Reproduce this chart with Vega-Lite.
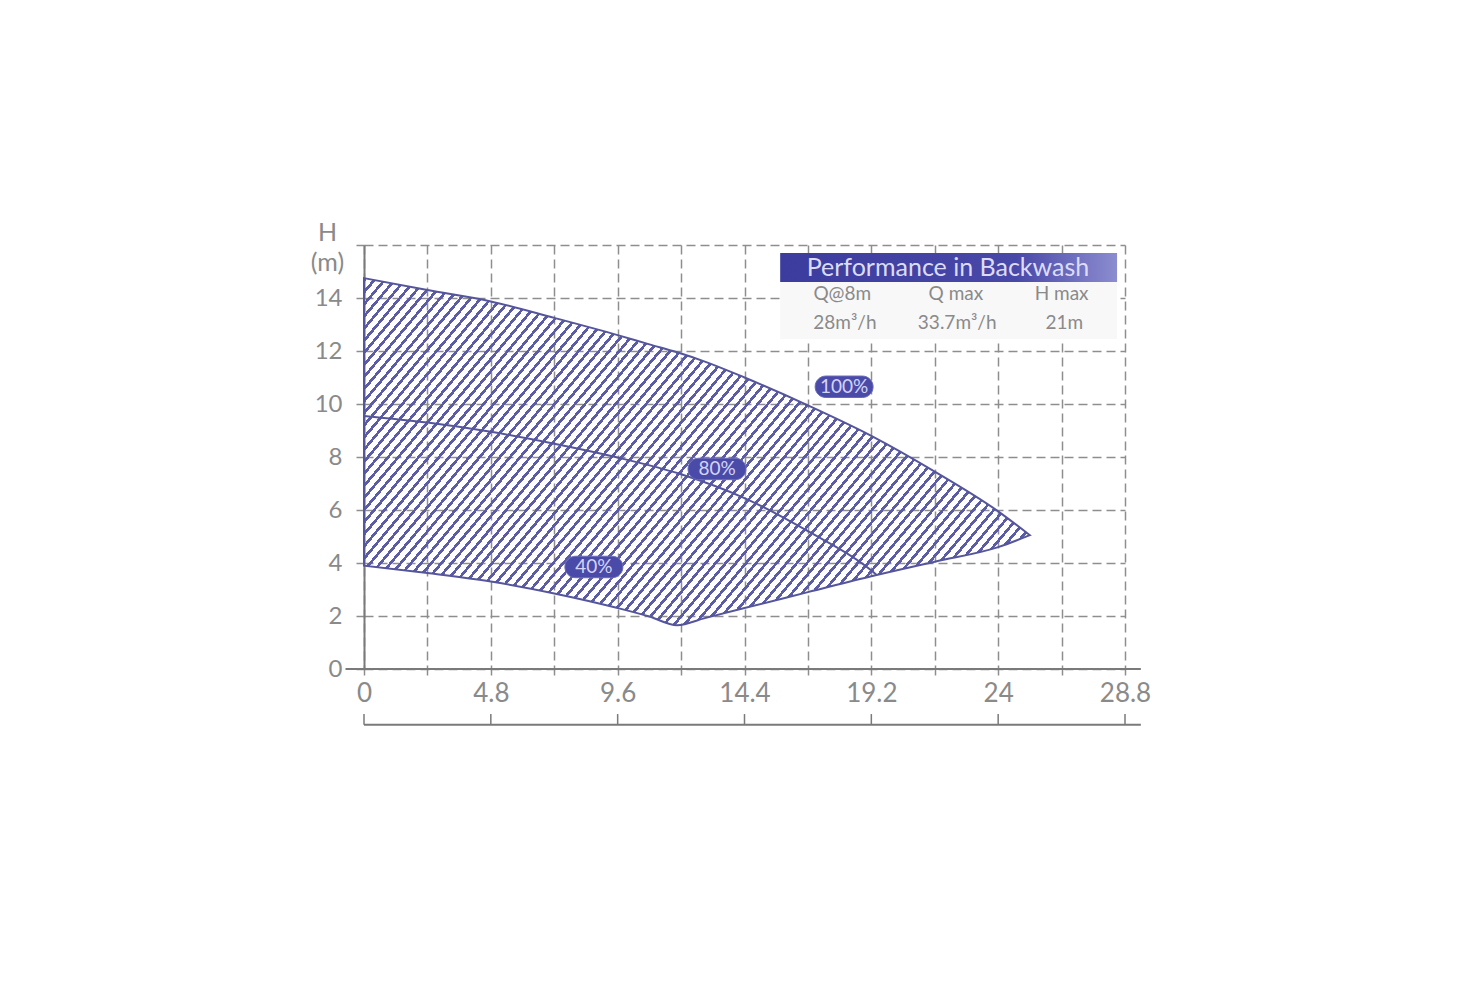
{
  "$schema": "https://vega.github.io/schema/vega-lite/v6.json",
  "width": 761,
  "height": 424,
  "autosize": {"type": "none"},
  "padding": {"left": 364, "top": 245, "right": 347, "bottom": 331},
  "background": "white",
  "config": {"view": {"stroke": null}, "font": "Lato"},
  "layer": [
    {
      "data": {"values": [
        {"q": 0, "top": 14.75, "bot": 3.9},
        {"q": 2.4, "top": 14.3, "bot": 3.62},
        {"q": 4.8, "top": 13.87, "bot": 3.3},
        {"q": 7.2, "top": 13.25, "bot": 2.85},
        {"q": 9.6, "top": 12.6, "bot": 2.3},
        {"q": 10.8, "top": 12.25, "bot": 1.98},
        {"q": 11.85, "top": 11.95, "bot": 1.65},
        {"q": 12.9, "top": 11.6, "bot": 1.92},
        {"q": 14.4, "top": 11.0, "bot": 2.3},
        {"q": 16.8, "top": 9.95, "bot": 2.9},
        {"q": 19.2, "top": 8.8, "bot": 3.5},
        {"q": 21.6, "top": 7.45, "bot": 4.05},
        {"q": 24, "top": 5.95, "bot": 4.6},
        {"q": 25.2, "top": 5.05, "bot": 5.05}
      ]},
      "mark": {
        "type": "area",
        "interpolate": "monotone",
        "stroke": "#55559c",
        "strokeWidth": 2,
        "fill": {
          "gradient": "linear",
          "x1": 0, "y1": 0, "x2": 1.28, "y2": 0.56,
          "stops": [
{"offset":0,"color":"#5c5ca6"},{"offset":0.0035,"color":"#5c5ca6"},{"offset":0.0035,"color":"rgba(255,255,255,0)"},{"offset":0.01,"color":"rgba(255,255,255,0)"},
{"offset":0.01,"color":"#5c5ca6"},{"offset":0.0135,"color":"#5c5ca6"},{"offset":0.0135,"color":"rgba(255,255,255,0)"},{"offset":0.02,"color":"rgba(255,255,255,0)"},
{"offset":0.02,"color":"#5c5ca6"},{"offset":0.0235,"color":"#5c5ca6"},{"offset":0.0235,"color":"rgba(255,255,255,0)"},{"offset":0.03,"color":"rgba(255,255,255,0)"},
{"offset":0.03,"color":"#5c5ca6"},{"offset":0.0335,"color":"#5c5ca6"},{"offset":0.0335,"color":"rgba(255,255,255,0)"},{"offset":0.04,"color":"rgba(255,255,255,0)"},
{"offset":0.04,"color":"#5c5ca6"},{"offset":0.0435,"color":"#5c5ca6"},{"offset":0.0435,"color":"rgba(255,255,255,0)"},{"offset":0.05,"color":"rgba(255,255,255,0)"},
{"offset":0.05,"color":"#5c5ca6"},{"offset":0.0535,"color":"#5c5ca6"},{"offset":0.0535,"color":"rgba(255,255,255,0)"},{"offset":0.06,"color":"rgba(255,255,255,0)"},
{"offset":0.06,"color":"#5c5ca6"},{"offset":0.0635,"color":"#5c5ca6"},{"offset":0.0635,"color":"rgba(255,255,255,0)"},{"offset":0.07,"color":"rgba(255,255,255,0)"},
{"offset":0.07,"color":"#5c5ca6"},{"offset":0.0735,"color":"#5c5ca6"},{"offset":0.0735,"color":"rgba(255,255,255,0)"},{"offset":0.08,"color":"rgba(255,255,255,0)"},
{"offset":0.08,"color":"#5c5ca6"},{"offset":0.0835,"color":"#5c5ca6"},{"offset":0.0835,"color":"rgba(255,255,255,0)"},{"offset":0.09,"color":"rgba(255,255,255,0)"},
{"offset":0.09,"color":"#5c5ca6"},{"offset":0.0935,"color":"#5c5ca6"},{"offset":0.0935,"color":"rgba(255,255,255,0)"},{"offset":0.10,"color":"rgba(255,255,255,0)"},
{"offset":0.10,"color":"#5c5ca6"},{"offset":0.1035,"color":"#5c5ca6"},{"offset":0.1035,"color":"rgba(255,255,255,0)"},{"offset":0.11,"color":"rgba(255,255,255,0)"},
{"offset":0.11,"color":"#5c5ca6"},{"offset":0.1135,"color":"#5c5ca6"},{"offset":0.1135,"color":"rgba(255,255,255,0)"},{"offset":0.12,"color":"rgba(255,255,255,0)"},
{"offset":0.12,"color":"#5c5ca6"},{"offset":0.1235,"color":"#5c5ca6"},{"offset":0.1235,"color":"rgba(255,255,255,0)"},{"offset":0.13,"color":"rgba(255,255,255,0)"},
{"offset":0.13,"color":"#5c5ca6"},{"offset":0.1335,"color":"#5c5ca6"},{"offset":0.1335,"color":"rgba(255,255,255,0)"},{"offset":0.14,"color":"rgba(255,255,255,0)"},
{"offset":0.14,"color":"#5c5ca6"},{"offset":0.1435,"color":"#5c5ca6"},{"offset":0.1435,"color":"rgba(255,255,255,0)"},{"offset":0.15,"color":"rgba(255,255,255,0)"},
{"offset":0.15,"color":"#5c5ca6"},{"offset":0.1535,"color":"#5c5ca6"},{"offset":0.1535,"color":"rgba(255,255,255,0)"},{"offset":0.16,"color":"rgba(255,255,255,0)"},
{"offset":0.16,"color":"#5c5ca6"},{"offset":0.1635,"color":"#5c5ca6"},{"offset":0.1635,"color":"rgba(255,255,255,0)"},{"offset":0.17,"color":"rgba(255,255,255,0)"},
{"offset":0.17,"color":"#5c5ca6"},{"offset":0.1735,"color":"#5c5ca6"},{"offset":0.1735,"color":"rgba(255,255,255,0)"},{"offset":0.18,"color":"rgba(255,255,255,0)"},
{"offset":0.18,"color":"#5c5ca6"},{"offset":0.1835,"color":"#5c5ca6"},{"offset":0.1835,"color":"rgba(255,255,255,0)"},{"offset":0.19,"color":"rgba(255,255,255,0)"},
{"offset":0.19,"color":"#5c5ca6"},{"offset":0.1935,"color":"#5c5ca6"},{"offset":0.1935,"color":"rgba(255,255,255,0)"},{"offset":0.20,"color":"rgba(255,255,255,0)"},
{"offset":0.20,"color":"#5c5ca6"},{"offset":0.2035,"color":"#5c5ca6"},{"offset":0.2035,"color":"rgba(255,255,255,0)"},{"offset":0.21,"color":"rgba(255,255,255,0)"},
{"offset":0.21,"color":"#5c5ca6"},{"offset":0.2135,"color":"#5c5ca6"},{"offset":0.2135,"color":"rgba(255,255,255,0)"},{"offset":0.22,"color":"rgba(255,255,255,0)"},
{"offset":0.22,"color":"#5c5ca6"},{"offset":0.2235,"color":"#5c5ca6"},{"offset":0.2235,"color":"rgba(255,255,255,0)"},{"offset":0.23,"color":"rgba(255,255,255,0)"},
{"offset":0.23,"color":"#5c5ca6"},{"offset":0.2335,"color":"#5c5ca6"},{"offset":0.2335,"color":"rgba(255,255,255,0)"},{"offset":0.24,"color":"rgba(255,255,255,0)"},
{"offset":0.24,"color":"#5c5ca6"},{"offset":0.2435,"color":"#5c5ca6"},{"offset":0.2435,"color":"rgba(255,255,255,0)"},{"offset":0.25,"color":"rgba(255,255,255,0)"},
{"offset":0.25,"color":"#5c5ca6"},{"offset":0.2535,"color":"#5c5ca6"},{"offset":0.2535,"color":"rgba(255,255,255,0)"},{"offset":0.26,"color":"rgba(255,255,255,0)"},
{"offset":0.26,"color":"#5c5ca6"},{"offset":0.2635,"color":"#5c5ca6"},{"offset":0.2635,"color":"rgba(255,255,255,0)"},{"offset":0.27,"color":"rgba(255,255,255,0)"},
{"offset":0.27,"color":"#5c5ca6"},{"offset":0.2735,"color":"#5c5ca6"},{"offset":0.2735,"color":"rgba(255,255,255,0)"},{"offset":0.28,"color":"rgba(255,255,255,0)"},
{"offset":0.28,"color":"#5c5ca6"},{"offset":0.2835,"color":"#5c5ca6"},{"offset":0.2835,"color":"rgba(255,255,255,0)"},{"offset":0.29,"color":"rgba(255,255,255,0)"},
{"offset":0.29,"color":"#5c5ca6"},{"offset":0.2935,"color":"#5c5ca6"},{"offset":0.2935,"color":"rgba(255,255,255,0)"},{"offset":0.30,"color":"rgba(255,255,255,0)"},
{"offset":0.30,"color":"#5c5ca6"},{"offset":0.3035,"color":"#5c5ca6"},{"offset":0.3035,"color":"rgba(255,255,255,0)"},{"offset":0.31,"color":"rgba(255,255,255,0)"},
{"offset":0.31,"color":"#5c5ca6"},{"offset":0.3135,"color":"#5c5ca6"},{"offset":0.3135,"color":"rgba(255,255,255,0)"},{"offset":0.32,"color":"rgba(255,255,255,0)"},
{"offset":0.32,"color":"#5c5ca6"},{"offset":0.3235,"color":"#5c5ca6"},{"offset":0.3235,"color":"rgba(255,255,255,0)"},{"offset":0.33,"color":"rgba(255,255,255,0)"},
{"offset":0.33,"color":"#5c5ca6"},{"offset":0.3335,"color":"#5c5ca6"},{"offset":0.3335,"color":"rgba(255,255,255,0)"},{"offset":0.34,"color":"rgba(255,255,255,0)"},
{"offset":0.34,"color":"#5c5ca6"},{"offset":0.3435,"color":"#5c5ca6"},{"offset":0.3435,"color":"rgba(255,255,255,0)"},{"offset":0.35,"color":"rgba(255,255,255,0)"},
{"offset":0.35,"color":"#5c5ca6"},{"offset":0.3535,"color":"#5c5ca6"},{"offset":0.3535,"color":"rgba(255,255,255,0)"},{"offset":0.36,"color":"rgba(255,255,255,0)"},
{"offset":0.36,"color":"#5c5ca6"},{"offset":0.3635,"color":"#5c5ca6"},{"offset":0.3635,"color":"rgba(255,255,255,0)"},{"offset":0.37,"color":"rgba(255,255,255,0)"},
{"offset":0.37,"color":"#5c5ca6"},{"offset":0.3735,"color":"#5c5ca6"},{"offset":0.3735,"color":"rgba(255,255,255,0)"},{"offset":0.38,"color":"rgba(255,255,255,0)"},
{"offset":0.38,"color":"#5c5ca6"},{"offset":0.3835,"color":"#5c5ca6"},{"offset":0.3835,"color":"rgba(255,255,255,0)"},{"offset":0.39,"color":"rgba(255,255,255,0)"},
{"offset":0.39,"color":"#5c5ca6"},{"offset":0.3935,"color":"#5c5ca6"},{"offset":0.3935,"color":"rgba(255,255,255,0)"},{"offset":0.40,"color":"rgba(255,255,255,0)"},
{"offset":0.40,"color":"#5c5ca6"},{"offset":0.4035,"color":"#5c5ca6"},{"offset":0.4035,"color":"rgba(255,255,255,0)"},{"offset":0.41,"color":"rgba(255,255,255,0)"},
{"offset":0.41,"color":"#5c5ca6"},{"offset":0.4135,"color":"#5c5ca6"},{"offset":0.4135,"color":"rgba(255,255,255,0)"},{"offset":0.42,"color":"rgba(255,255,255,0)"},
{"offset":0.42,"color":"#5c5ca6"},{"offset":0.4235,"color":"#5c5ca6"},{"offset":0.4235,"color":"rgba(255,255,255,0)"},{"offset":0.43,"color":"rgba(255,255,255,0)"},
{"offset":0.43,"color":"#5c5ca6"},{"offset":0.4335,"color":"#5c5ca6"},{"offset":0.4335,"color":"rgba(255,255,255,0)"},{"offset":0.44,"color":"rgba(255,255,255,0)"},
{"offset":0.44,"color":"#5c5ca6"},{"offset":0.4435,"color":"#5c5ca6"},{"offset":0.4435,"color":"rgba(255,255,255,0)"},{"offset":0.45,"color":"rgba(255,255,255,0)"},
{"offset":0.45,"color":"#5c5ca6"},{"offset":0.4535,"color":"#5c5ca6"},{"offset":0.4535,"color":"rgba(255,255,255,0)"},{"offset":0.46,"color":"rgba(255,255,255,0)"},
{"offset":0.46,"color":"#5c5ca6"},{"offset":0.4635,"color":"#5c5ca6"},{"offset":0.4635,"color":"rgba(255,255,255,0)"},{"offset":0.47,"color":"rgba(255,255,255,0)"},
{"offset":0.47,"color":"#5c5ca6"},{"offset":0.4735,"color":"#5c5ca6"},{"offset":0.4735,"color":"rgba(255,255,255,0)"},{"offset":0.48,"color":"rgba(255,255,255,0)"},
{"offset":0.48,"color":"#5c5ca6"},{"offset":0.4835,"color":"#5c5ca6"},{"offset":0.4835,"color":"rgba(255,255,255,0)"},{"offset":0.49,"color":"rgba(255,255,255,0)"},
{"offset":0.49,"color":"#5c5ca6"},{"offset":0.4935,"color":"#5c5ca6"},{"offset":0.4935,"color":"rgba(255,255,255,0)"},{"offset":0.50,"color":"rgba(255,255,255,0)"},
{"offset":0.50,"color":"#5c5ca6"},{"offset":0.5035,"color":"#5c5ca6"},{"offset":0.5035,"color":"rgba(255,255,255,0)"},{"offset":0.51,"color":"rgba(255,255,255,0)"},
{"offset":0.51,"color":"#5c5ca6"},{"offset":0.5135,"color":"#5c5ca6"},{"offset":0.5135,"color":"rgba(255,255,255,0)"},{"offset":0.52,"color":"rgba(255,255,255,0)"},
{"offset":0.52,"color":"#5c5ca6"},{"offset":0.5235,"color":"#5c5ca6"},{"offset":0.5235,"color":"rgba(255,255,255,0)"},{"offset":0.53,"color":"rgba(255,255,255,0)"},
{"offset":0.53,"color":"#5c5ca6"},{"offset":0.5335,"color":"#5c5ca6"},{"offset":0.5335,"color":"rgba(255,255,255,0)"},{"offset":0.54,"color":"rgba(255,255,255,0)"},
{"offset":0.54,"color":"#5c5ca6"},{"offset":0.5435,"color":"#5c5ca6"},{"offset":0.5435,"color":"rgba(255,255,255,0)"},{"offset":0.55,"color":"rgba(255,255,255,0)"},
{"offset":0.55,"color":"#5c5ca6"},{"offset":0.5535,"color":"#5c5ca6"},{"offset":0.5535,"color":"rgba(255,255,255,0)"},{"offset":0.56,"color":"rgba(255,255,255,0)"},
{"offset":0.56,"color":"#5c5ca6"},{"offset":0.5635,"color":"#5c5ca6"},{"offset":0.5635,"color":"rgba(255,255,255,0)"},{"offset":0.57,"color":"rgba(255,255,255,0)"},
{"offset":0.57,"color":"#5c5ca6"},{"offset":0.5735,"color":"#5c5ca6"},{"offset":0.5735,"color":"rgba(255,255,255,0)"},{"offset":0.58,"color":"rgba(255,255,255,0)"},
{"offset":0.58,"color":"#5c5ca6"},{"offset":0.5835,"color":"#5c5ca6"},{"offset":0.5835,"color":"rgba(255,255,255,0)"},{"offset":0.59,"color":"rgba(255,255,255,0)"},
{"offset":0.59,"color":"#5c5ca6"},{"offset":0.5935,"color":"#5c5ca6"},{"offset":0.5935,"color":"rgba(255,255,255,0)"},{"offset":0.60,"color":"rgba(255,255,255,0)"},
{"offset":0.60,"color":"#5c5ca6"},{"offset":0.6035,"color":"#5c5ca6"},{"offset":0.6035,"color":"rgba(255,255,255,0)"},{"offset":0.61,"color":"rgba(255,255,255,0)"},
{"offset":0.61,"color":"#5c5ca6"},{"offset":0.6135,"color":"#5c5ca6"},{"offset":0.6135,"color":"rgba(255,255,255,0)"},{"offset":0.62,"color":"rgba(255,255,255,0)"},
{"offset":0.62,"color":"#5c5ca6"},{"offset":0.6235,"color":"#5c5ca6"},{"offset":0.6235,"color":"rgba(255,255,255,0)"},{"offset":0.63,"color":"rgba(255,255,255,0)"},
{"offset":0.63,"color":"#5c5ca6"},{"offset":0.6335,"color":"#5c5ca6"},{"offset":0.6335,"color":"rgba(255,255,255,0)"},{"offset":0.64,"color":"rgba(255,255,255,0)"},
{"offset":0.64,"color":"#5c5ca6"},{"offset":0.6435,"color":"#5c5ca6"},{"offset":0.6435,"color":"rgba(255,255,255,0)"},{"offset":0.65,"color":"rgba(255,255,255,0)"},
{"offset":0.65,"color":"#5c5ca6"},{"offset":0.6535,"color":"#5c5ca6"},{"offset":0.6535,"color":"rgba(255,255,255,0)"},{"offset":0.66,"color":"rgba(255,255,255,0)"},
{"offset":0.66,"color":"#5c5ca6"},{"offset":0.6635,"color":"#5c5ca6"},{"offset":0.6635,"color":"rgba(255,255,255,0)"},{"offset":0.67,"color":"rgba(255,255,255,0)"},
{"offset":0.67,"color":"#5c5ca6"},{"offset":0.6735,"color":"#5c5ca6"},{"offset":0.6735,"color":"rgba(255,255,255,0)"},{"offset":0.68,"color":"rgba(255,255,255,0)"},
{"offset":0.68,"color":"#5c5ca6"},{"offset":0.6835,"color":"#5c5ca6"},{"offset":0.6835,"color":"rgba(255,255,255,0)"},{"offset":0.69,"color":"rgba(255,255,255,0)"},
{"offset":0.69,"color":"#5c5ca6"},{"offset":0.6935,"color":"#5c5ca6"},{"offset":0.6935,"color":"rgba(255,255,255,0)"},{"offset":0.70,"color":"rgba(255,255,255,0)"},
{"offset":0.70,"color":"#5c5ca6"},{"offset":0.7035,"color":"#5c5ca6"},{"offset":0.7035,"color":"rgba(255,255,255,0)"},{"offset":0.71,"color":"rgba(255,255,255,0)"},
{"offset":0.71,"color":"#5c5ca6"},{"offset":0.7135,"color":"#5c5ca6"},{"offset":0.7135,"color":"rgba(255,255,255,0)"},{"offset":0.72,"color":"rgba(255,255,255,0)"},
{"offset":0.72,"color":"#5c5ca6"},{"offset":0.7235,"color":"#5c5ca6"},{"offset":0.7235,"color":"rgba(255,255,255,0)"},{"offset":0.73,"color":"rgba(255,255,255,0)"},
{"offset":0.73,"color":"#5c5ca6"},{"offset":0.7335,"color":"#5c5ca6"},{"offset":0.7335,"color":"rgba(255,255,255,0)"},{"offset":0.74,"color":"rgba(255,255,255,0)"},
{"offset":0.74,"color":"#5c5ca6"},{"offset":0.7435,"color":"#5c5ca6"},{"offset":0.7435,"color":"rgba(255,255,255,0)"},{"offset":0.75,"color":"rgba(255,255,255,0)"},
{"offset":0.75,"color":"#5c5ca6"},{"offset":0.7535,"color":"#5c5ca6"},{"offset":0.7535,"color":"rgba(255,255,255,0)"},{"offset":0.76,"color":"rgba(255,255,255,0)"},
{"offset":0.76,"color":"#5c5ca6"},{"offset":0.7635,"color":"#5c5ca6"},{"offset":0.7635,"color":"rgba(255,255,255,0)"},{"offset":0.77,"color":"rgba(255,255,255,0)"},
{"offset":0.77,"color":"#5c5ca6"},{"offset":0.7735,"color":"#5c5ca6"},{"offset":0.7735,"color":"rgba(255,255,255,0)"},{"offset":0.78,"color":"rgba(255,255,255,0)"},
{"offset":0.78,"color":"#5c5ca6"},{"offset":0.7835,"color":"#5c5ca6"},{"offset":0.7835,"color":"rgba(255,255,255,0)"},{"offset":0.79,"color":"rgba(255,255,255,0)"},
{"offset":0.79,"color":"#5c5ca6"},{"offset":0.7935,"color":"#5c5ca6"},{"offset":0.7935,"color":"rgba(255,255,255,0)"},{"offset":0.80,"color":"rgba(255,255,255,0)"},
{"offset":0.80,"color":"#5c5ca6"},{"offset":0.8035,"color":"#5c5ca6"},{"offset":0.8035,"color":"rgba(255,255,255,0)"},{"offset":0.81,"color":"rgba(255,255,255,0)"},
{"offset":0.81,"color":"#5c5ca6"},{"offset":0.8135,"color":"#5c5ca6"},{"offset":0.8135,"color":"rgba(255,255,255,0)"},{"offset":0.82,"color":"rgba(255,255,255,0)"},
{"offset":0.82,"color":"#5c5ca6"},{"offset":0.8235,"color":"#5c5ca6"},{"offset":0.8235,"color":"rgba(255,255,255,0)"},{"offset":0.83,"color":"rgba(255,255,255,0)"},
{"offset":0.83,"color":"#5c5ca6"},{"offset":0.8335,"color":"#5c5ca6"},{"offset":0.8335,"color":"rgba(255,255,255,0)"},{"offset":0.84,"color":"rgba(255,255,255,0)"},
{"offset":0.84,"color":"#5c5ca6"},{"offset":0.8435,"color":"#5c5ca6"},{"offset":0.8435,"color":"rgba(255,255,255,0)"},{"offset":0.85,"color":"rgba(255,255,255,0)"},
{"offset":0.85,"color":"#5c5ca6"},{"offset":0.8535,"color":"#5c5ca6"},{"offset":0.8535,"color":"rgba(255,255,255,0)"},{"offset":0.86,"color":"rgba(255,255,255,0)"},
{"offset":0.86,"color":"#5c5ca6"},{"offset":0.8635,"color":"#5c5ca6"},{"offset":0.8635,"color":"rgba(255,255,255,0)"},{"offset":0.87,"color":"rgba(255,255,255,0)"},
{"offset":0.87,"color":"#5c5ca6"},{"offset":0.8735,"color":"#5c5ca6"},{"offset":0.8735,"color":"rgba(255,255,255,0)"},{"offset":0.88,"color":"rgba(255,255,255,0)"},
{"offset":0.88,"color":"#5c5ca6"},{"offset":0.8835,"color":"#5c5ca6"},{"offset":0.8835,"color":"rgba(255,255,255,0)"},{"offset":0.89,"color":"rgba(255,255,255,0)"},
{"offset":0.89,"color":"#5c5ca6"},{"offset":0.8935,"color":"#5c5ca6"},{"offset":0.8935,"color":"rgba(255,255,255,0)"},{"offset":0.90,"color":"rgba(255,255,255,0)"},
{"offset":0.90,"color":"#5c5ca6"},{"offset":0.9035,"color":"#5c5ca6"},{"offset":0.9035,"color":"rgba(255,255,255,0)"},{"offset":0.91,"color":"rgba(255,255,255,0)"},
{"offset":0.91,"color":"#5c5ca6"},{"offset":0.9135,"color":"#5c5ca6"},{"offset":0.9135,"color":"rgba(255,255,255,0)"},{"offset":0.92,"color":"rgba(255,255,255,0)"},
{"offset":0.92,"color":"#5c5ca6"},{"offset":0.9235,"color":"#5c5ca6"},{"offset":0.9235,"color":"rgba(255,255,255,0)"},{"offset":0.93,"color":"rgba(255,255,255,0)"},
{"offset":0.93,"color":"#5c5ca6"},{"offset":0.9335,"color":"#5c5ca6"},{"offset":0.9335,"color":"rgba(255,255,255,0)"},{"offset":0.94,"color":"rgba(255,255,255,0)"},
{"offset":0.94,"color":"#5c5ca6"},{"offset":0.9435,"color":"#5c5ca6"},{"offset":0.9435,"color":"rgba(255,255,255,0)"},{"offset":0.95,"color":"rgba(255,255,255,0)"},
{"offset":0.95,"color":"#5c5ca6"},{"offset":0.9535,"color":"#5c5ca6"},{"offset":0.9535,"color":"rgba(255,255,255,0)"},{"offset":0.96,"color":"rgba(255,255,255,0)"},
{"offset":0.96,"color":"#5c5ca6"},{"offset":0.9635,"color":"#5c5ca6"},{"offset":0.9635,"color":"rgba(255,255,255,0)"},{"offset":0.97,"color":"rgba(255,255,255,0)"},
{"offset":0.97,"color":"#5c5ca6"},{"offset":0.9735,"color":"#5c5ca6"},{"offset":0.9735,"color":"rgba(255,255,255,0)"},{"offset":0.98,"color":"rgba(255,255,255,0)"},
{"offset":0.98,"color":"#5c5ca6"},{"offset":0.9835,"color":"#5c5ca6"},{"offset":0.9835,"color":"rgba(255,255,255,0)"},{"offset":0.99,"color":"rgba(255,255,255,0)"},
{"offset":0.99,"color":"#5c5ca6"},{"offset":0.9935,"color":"#5c5ca6"},{"offset":0.9935,"color":"rgba(255,255,255,0)"},{"offset":1,"color":"rgba(255,255,255,0)"}
          ]
        }
      },
      "encoding": {
        "x": {
          "field": "q", "type": "quantitative",
          "scale": {"domain": [0, 28.8], "nice": false, "zero": false},
          "axis": {
            "title": null,
            "values": [0, 2.4, 4.8, 7.2, 9.6, 12, 14.4, 16.8, 19.2, 21.6, 24, 26.4, 28.8],
            "labelExpr": "(round(datum.value * 10) % 48 == 0) ? ('' + datum.value) : ''",
            "grid": true, "gridDash": [9, 5], "gridColor": "#8e8e8e", "gridWidth": 1.5,
            "domain": false,
            "ticks": true, "tickSize": 6, "tickColor": "#8e8e8e", "tickWidth": 1.5,
            "labelFont": "Lato", "labelFontSize": 26, "labelColor": "#8a8a8a", "labelPadding": 5,
            "labelFlush": false, "labelOverlap": false
          }
        },
        "y": {
          "field": "top", "type": "quantitative",
          "scale": {"domain": [0, 16], "nice": false, "zero": false},
          "axis": {
            "title": ["H", "(m)"],
            "titleAngle": 0, "titleX": -37, "titleY": -13, "titleAlign": "center", "titleBaseline": "middle",
            "titleFont": "Lato", "titleFontSize": 25, "titleFontWeight": "normal", "titleColor": "#8a8a8a", "titleLineHeight": 30,
            "values": [0, 1, 2, 3, 4, 5, 6, 7, 8, 9, 10, 11, 12, 13, 14, 15, 16],
            "labelExpr": "(datum.value % 2 == 0 && datum.value < 16) ? datum.label : ''",
            "grid": true, "gridDash": [9, 5], "gridColor": "#8e8e8e", "gridWidth": 1.5,
            "domain": true, "domainColor": "#7a7a7a", "domainWidth": 2,
            "ticks": true, "tickSize": 8, "tickColor": "#8e8e8e", "tickWidth": 1.5,
            "labelFont": "Lato", "labelFontSize": 24, "labelColor": "#8a8a8a", "labelPadding": 14,
            "labelFlush": false, "labelOverlap": false
          }
        },
        "y2": {"field": "bot"}
      }
    },
    {
      "data": {"values": [
        {"q": 0, "h": 9.55},
        {"q": 2.4, "h": 9.3},
        {"q": 4.8, "h": 8.95},
        {"q": 7.2, "h": 8.5},
        {"q": 9.6, "h": 7.98},
        {"q": 12, "h": 7.35},
        {"q": 14.4, "h": 6.45},
        {"q": 16.8, "h": 5.2},
        {"q": 19.2, "h": 3.72},
        {"q": 19.4, "h": 3.55}
      ]},
      "mark": {"type": "line", "interpolate": "monotone", "stroke": "#55559c", "strokeWidth": 2},
      "encoding": {
        "x": {"field": "q", "type": "quantitative"},
        "y": {"field": "h", "type": "quantitative"}
      }
    },
    {
      "data": {"values": [{}]},
      "mark": {"type": "rect", "fill": "#f8f8f8"},
      "encoding": {
        "x": {"datum": 15.75}, "x2": {"datum": 28.5},
        "y": {"datum": 14.6}, "y2": {"datum": 12.45}
      }
    },
    {
      "data": {"values": [{}]},
      "mark": {
        "type": "rect",
        "fill": {
          "gradient": "linear", "x1": 0, "y1": 0, "x2": 1, "y2": 0,
          "stops": [
            {"offset": 0, "color": "#3c3c9e"},
            {"offset": 0.7, "color": "#4848a8"},
            {"offset": 1, "color": "#8c8cd0"}
          ]
        }
      },
      "encoding": {
        "x": {"datum": 15.75}, "x2": {"datum": 28.5},
        "y": {"datum": 15.7}, "y2": {"datum": 14.6}
      }
    },
    {
      "data": {"values": [{"label": "Performance in Backwash"}]},
      "mark": {"type": "text", "font": "Lato", "fontSize": 25, "color": "#dcdcf8", "align": "center", "baseline": "middle"},
      "encoding": {
        "x": {"datum": 22.1}, "y": {"datum": 15.13},
        "text": {"field": "label"}
      }
    },
    {
      "data": {"values": [
        {"label": "Q@8m", "q": 18.1, "h": 14.15},
        {"label": "Q max", "q": 22.4, "h": 14.15},
        {"label": "H max", "q": 26.4, "h": 14.15},
        {"label": "28m³/h", "q": 18.2, "h": 13.06},
        {"label": "33.7m³/h", "q": 22.45, "h": 13.06},
        {"label": "21m", "q": 26.5, "h": 13.06}
      ]},
      "mark": {"type": "text", "font": "Lato", "fontSize": 19, "color": "#8a8a8a", "align": "center", "baseline": "middle"},
      "encoding": {
        "x": {"field": "q", "type": "quantitative"},
        "y": {"field": "h", "type": "quantitative"},
        "text": {"field": "label"}
      }
    },
    {
      "data": {"name": "pills", "values": [
        {"label": "100%", "q": 18.17, "h": 10.65},
        {"label": "80%", "q": 13.36, "h": 7.55},
        {"label": "40%", "q": 8.7, "h": 3.85}
      ]},
      "layer": [
        {
          "mark": {
            "type": "point", "filled": true, "opacity": 1, "fill": "#4a4aa8", "stroke": "#6a6ab8", "strokeWidth": 1,
            "size": 3364,
            "shape": "M -0.63 -0.37 L 0.63 -0.37 A 0.37 0.37 0 0 1 0.63 0.37 L -0.63 0.37 A 0.37 0.37 0 0 1 -0.63 -0.37 Z"
          },
          "encoding": {
            "x": {"field": "q", "type": "quantitative"},
            "y": {"field": "h", "type": "quantitative"}
          }
        },
        {
          "mark": {"type": "text", "font": "Lato", "fontSize": 19, "color": "#d4d4f6", "align": "center", "baseline": "middle"},
          "encoding": {
            "x": {"field": "q", "type": "quantitative"},
            "y": {"field": "h", "type": "quantitative"},
            "text": {"field": "label"}
          }
        }
      ]
    },
    {
      "data": {"values": [{}]},
      "mark": {"type": "rule", "stroke": "#7a7a7a", "strokeWidth": 2},
      "encoding": {
        "x": {"datum": -0.7}, "x2": {"datum": 29.4},
        "y": {"datum": 0}
      }
    },
    {
      "data": {"values": [{}]},
      "mark": {"type": "rule", "stroke": "#7a7a7a", "strokeWidth": 2},
      "encoding": {
        "x": {"datum": 0}, "x2": {"datum": 29.4},
        "y": {"datum": -2.1}
      }
    },
    {
      "data": {"values": [{"q": 0}, {"q": 4.8}, {"q": 9.6}, {"q": 14.4}, {"q": 19.2}, {"q": 24}, {"q": 28.8}]},
      "mark": {"type": "rule", "stroke": "#7a7a7a", "strokeWidth": 1.5},
      "encoding": {
        "x": {"field": "q", "type": "quantitative"},
        "y": {"datum": -2.1}, "y2": {"datum": -1.7}
      }
    }
  ]
}
